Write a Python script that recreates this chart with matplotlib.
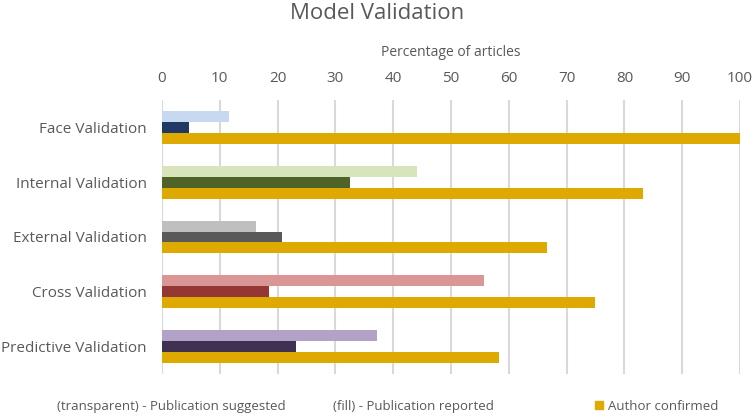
import matplotlib.pyplot as plt
import numpy as np
from matplotlib.patches import Patch

plt.rcParams['font.family'] = ['Open Sans', 'DejaVu Sans']

categories = ["Face Validation", "Internal Validation", "External Validation",
              "Cross Validation", "Predictive Validation"]
suggested = [11.6, 44.1, 16.3, 55.7, 37.2]
reported = [4.7, 32.5, 20.8, 18.5, 23.2]
author = [100, 83.2, 66.6, 74.9, 58.3]

light_colors = ["#c6d9f1", "#d8e4bc", "#bfbfbf", "#da9694", "#b3a2c7"]
dark_colors = ["#1f3864", "#4f6228", "#595959", "#953735", "#403152"]
author_color = "#dea900"

txt = "#595959"

fig = plt.figure(figsize=(7.55, 4.18), dpi=100)
ax = fig.add_axes([162 / 755, 1 - 374 / 418, (740 - 162) / 755, 274 / 418])

y = np.arange(len(categories))
h = 0.2
ax.barh(y - h, suggested, height=h, color=light_colors, zorder=3)
ax.barh(y, reported, height=h, color=dark_colors, zorder=3)
ax.barh(y + h, author, height=h, color=author_color, zorder=3)

ax.set_xlim(0, 100)
ax.set_ylim(4.5, -0.5)
ax.set_yticks(y)
ax.set_yticklabels(categories, fontsize=11, color=txt)
ax.set_xticks(np.arange(0, 101, 10))
ax.xaxis.tick_top()
ax.xaxis.set_label_position("top")
ax.tick_params(axis="x", labelsize=11, colors=txt, length=0, pad=10)
ax.tick_params(axis="y", length=0, pad=11)
ax.set_xlabel("Percentage of articles", fontsize=10, color=txt, labelpad=11)
ax.grid(axis="x", color="#d9d9d9", linewidth=1.5, zorder=0)
for s in ax.spines.values():
    s.set_visible(False)

fig.text(0.5, 0.968, "Model Validation", ha="center", va="center",
         fontsize=16, color=txt)

fig.text(0.076, 0.028, "(transparent) - Publication suggested", fontsize=9.5,
         color=txt, va="center")
fig.text(0.441, 0.028, "(fill) - Publication reported", fontsize=9.5,
         color=txt, va="center")
fig.legend(handles=[Patch(color=author_color, label="Author confirmed")],
           loc="center left", bbox_to_anchor=(0.772, 0.028), frameon=False,
           fontsize=9.5, handlelength=0.6, handleheight=0.6, handletextpad=0.4,
           labelcolor=txt)

fig.savefig("out.png", dpi=100)
